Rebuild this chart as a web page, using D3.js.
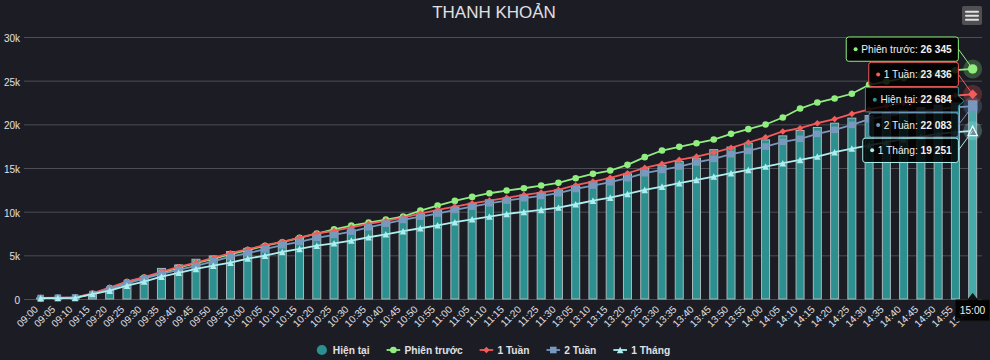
<!DOCTYPE html>
<html><head><meta charset="utf-8">
<script src="https://cdn.jsdelivr.net/npm/d3@7"></script>
<style>
html,body{margin:0;padding:0;background:#1c1c25;}
svg{display:block;}
</style></head><body>
<svg id="chart" width="990" height="360"></svg>
<script>
const categories = ["09:00","09:05","09:10","09:15","09:20","09:25","09:30","09:35","09:40","09:45","09:50","09:55","10:00","10:05","10:10","10:15","10:20","10:25","10:30","10:35","10:40","10:45","10:50","10:55","11:00","11:05","11:10","11:15","11:20","11:25","11:30","13:05","13:10","13:15","13:20","13:25","13:30","13:35","13:40","13:45","13:50","13:55","14:00","14:05","14:10","14:15","14:20","14:25","14:30","14:35","14:40","14:45","14:50","14:55","15:00"];
const hienTai = [120,150,180,520,1220,1870,2560,3500,3900,4550,4930,5430,5800,6190,6570,7070,7530,7750,7900,8370,8860,9440,9740,10120,10500,10960,11350,11540,11920,12190,12490,12950,13450,13830,14330,14980,15300,15740,16120,17100,17400,17840,18220,18680,19290,19640,20130,20710,21000,21300,21600,21900,22200,22450,22684];
const phienTruoc = [100,130,160,600,1250,1950,2450,3000,3600,4100,4600,5150,5600,6100,6500,7000,7500,7980,8400,8750,9090,9440,10120,10700,11230,11690,12110,12420,12680,12990,13300,13830,14330,14710,15360,16240,17000,17420,17840,18260,18910,19450,19980,20780,21810,22500,22960,23500,24530,24900,25300,25600,25900,26200,26345];
const motTuan = [120,150,180,650,1300,2000,2500,3100,3670,4170,4700,5240,5700,6160,6540,7040,7500,7800,8200,8600,8940,9320,9780,10200,10580,10960,11270,11580,11920,12190,12490,13030,13450,13870,14400,15010,15470,15930,16310,16770,17300,17920,18510,19180,19560,20130,20600,21200,21700,22100,22450,22750,23050,23300,23436];
const haiTuan = [110,140,170,560,1100,1800,2330,2870,3330,3780,4320,4860,5240,5700,6160,6540,7000,7340,7720,8210,8630,9050,9440,9780,10200,10580,10960,11270,11540,11800,12110,12600,12990,13370,13830,14400,14780,15170,15630,16050,16580,16960,17460,18000,18340,18910,19370,19940,20600,20950,21250,21500,21750,21950,22083];
const motThang = [90,110,130,570,960,1530,2000,2560,3000,3440,3820,4170,4630,4970,5390,5740,6100,6380,6690,7070,7410,7760,8100,8440,8790,9130,9440,9740,9970,10200,10470,10850,11270,11610,12030,12490,12870,13260,13640,14020,14400,14780,15170,15550,15930,16310,16810,17230,17600,17950,18300,18600,18900,19100,19251];
const yTicks = [0,5000,10000,15000,20000,25000,30000];
const yTickLabels = ["0","5k","10k","15k","20k","25k","30k"];
const titleText = "THANH KHOẢN";

const FONT = '"Liberation Sans", Arial, Helvetica, sans-serif';
const TXT = '#e0e0e3';
const svg = d3.select('#chart');
const W = 990, H = 360;
svg.append('rect').attr('width', W).attr('height', H).attr('fill', '#1c1c25');

const plot = {left: 32, right: 981.3, top: 37, bottom: 299, gridLeft: 24, gridRight: 982};
const x = d3.scaleBand().domain(categories).range([plot.left, plot.right]).padding(0);
const bw = x.bandwidth();
const cx = c => x(c) + bw / 2;
const y = d3.scaleLinear().domain([0, 30000]).range([plot.bottom, plot.top]);

// Y axis with grid
const yAxis = d3.axisLeft(y).tickValues(yTicks).tickSize(-(plot.gridRight - plot.gridLeft)).tickPadding(4)
  .tickFormat(d => yTickLabels[yTicks.indexOf(d)]);
const gy = svg.append('g').attr('transform', `translate(${plot.gridLeft},0)`).call(yAxis);
gy.select('.domain').remove();
gy.selectAll('line').attr('stroke', '#4d4d55').attr('stroke-width', 1);
gy.selectAll('text').attr('fill', TXT).attr('font-family', FONT).style('font-size', '10px').attr('dy', '0.45em');

// X axis
const xAxis = d3.axisBottom(x).tickSize(0);
const gx = svg.append('g').attr('transform', `translate(0,${plot.bottom})`).call(xAxis);
gx.select('.domain').remove();
gx.selectAll('text').attr('x', 0).attr('y', 0).attr('dy', 0)
  .attr('transform', 'translate(-2,11) rotate(-45)').attr('text-anchor', 'end')
  .attr('fill', TXT).attr('font-family', FONT).style('font-size', '10px');

const hi = categories.length - 1;

// Bars
const barW = 8;
svg.append('g').selectAll('rect').data(hienTai).join('rect')
  .attr('x', (d, i) => cx(categories[i]) - barW / 2)
  .attr('y', d => y(d))
  .attr('width', barW)
  .attr('height', d => y(0) - y(d))
  .attr('fill', (d, i) => i === hi ? '#45aaa9' : '#2b908f')
  .attr('stroke', '#aab9ba').attr('stroke-width', 1);

const series = [
  {name: 'Phiên trước', data: phienTruoc, color: '#90ee7e', symbol: 'circle'},
  {name: '1 Tuần', data: motTuan, color: '#f45b5b', symbol: 'diamond'},
  {name: '2 Tuần', data: haiTuan, color: '#7798BF', symbol: 'square'},
  {name: '1 Tháng', data: motThang, color: '#aaeeee', symbol: 'triangle'}
];

function markerPath(type, s) {
  const h = s / 2;
  switch (type) {
    case 'circle': return d3.symbol(d3.symbolCircle, Math.PI * h * h)();
    case 'diamond': return `M0,${-h}L${h},0L0,${h}L${-h},0Z`;
    case 'square': return `M${-h},${-h}H${h}V${h}H${-h}Z`;
    case 'triangle': return `M0,${-h}L${h},${h}L${-h},${h}Z`;
  }
}

const line = d3.line().x((d, i) => cx(categories[i])).y(d => y(d));
series.forEach(s => {
  const g = svg.append('g');
  g.append('path').attr('d', line(s.data)).attr('fill', 'none').attr('stroke', s.color).attr('stroke-width', 1.8);
  g.selectAll('path.m').data(s.data).join('path').attr('class', 'm')
    .attr('transform', (d, i) => `translate(${cx(categories[i])},${y(d)})`)
    .attr('d', markerPath(s.symbol, 6.6)).attr('fill', s.color);
});

// Hover markers + halos
series.forEach(s => {
  const px = cx(categories[hi]), py = y(s.data[hi]);
  svg.append('circle').attr('cx', px).attr('cy', py).attr('r', 9.5).attr('fill', s.color).attr('fill-opacity', 0.25);
  const m = svg.append('path').attr('transform', `translate(${px},${py})`).attr('d', markerPath(s.symbol, 9.5));
  if (s.symbol === 'triangle') m.attr('fill', '#6f8f95').attr('stroke', '#e8ffff').attr('stroke-width', 1.2);
  else m.attr('fill', s.color);
});

// Tooltips (split)
const fmt = v => d3.format(',')(v).replace(/,/g, ' ');
const items = [
  {name: 'Hiện tại', value: hienTai[hi], color: '#2b908f', ay: y(hienTai[hi])},
  ...series.map(s => ({name: s.name, value: s.data[hi], color: s.color, ay: y(s.data[hi])}))
].sort((a, b) => a.ay - b.ay);
const ax = cx(categories[hi]);
const SIZE = 25.3, BH = 24.3;
let groups = items.map(it => ({items: [it], sum: it.ay, n: 1, size: SIZE}));
const gpos = g => g.sum / g.n - g.size / 2;
let changed = true;
while (changed) {
  changed = false;
  for (let i = 0; i < groups.length - 1; i++) {
    const a = groups[i], b = groups[i + 1];
    if (gpos(a) + a.size > gpos(b)) {
      groups.splice(i, 2, {items: a.items.concat(b.items), sum: a.sum + b.sum, n: a.n + b.n, size: a.size + b.size});
      changed = true; break;
    }
  }
}
groups.forEach(g => { let p = gpos(g); g.items.forEach(it => { it.by = p; p += SIZE; }); });

const tipG = svg.append('g');
const boxRight = ax - 14.3;
items.forEach(it => {
  const g = tipG.append('g');
  const t = g.append('text').attr('font-family', FONT).style('font-size', '10.2px').attr('fill', '#f0f0f0');
  t.append('tspan').text(it.name + ': ');
  t.append('tspan').attr('font-weight', 'bold').text(fmt(it.value));
  const tl = t.node().getComputedTextLength();
  const bwid = 15 + tl + 6.6;
  const bx = boxRight - bwid, by = it.by, bh = BH;
  const inside = it.ay > by + 6 && it.ay < by + bh - 6;
  if (inside) {
    g.insert('path', 'text').attr('d', `M${bx},${by}H${boxRight}V${it.ay - 5}L${boxRight + 6},${it.ay}L${boxRight},${it.ay + 5}V${by + bh}H${bx}Z`)
      .attr('fill', 'rgba(0,0,0,0.85)').attr('stroke', it.color).attr('stroke-width', 1);
  } else {
    g.insert('line', 'text').attr('x1', boxRight).attr('y1', by + bh / 2).attr('x2', ax).attr('y2', it.ay)
      .attr('stroke', it.color).attr('stroke-width', 1);
    g.insert('rect', 'text').attr('x', bx).attr('y', by).attr('width', bwid).attr('height', bh).attr('rx', 2.5)
      .attr('fill', 'rgba(0,0,0,0.85)').attr('stroke', it.color).attr('stroke-width', 1);
  }
  g.insert('circle', 'text').attr('cx', bx + 9.4).attr('cy', by + bh / 2).attr('r', 2).attr('fill', it.color);
  t.attr('x', bx + 15).attr('y', by + bh / 2 + 3.6);
});

// Header label
{
  const g = svg.append('g');
  const t = g.append('text').attr('font-family', FONT).style('font-size', '10.2px').attr('fill', '#f0f0f0')
    .attr('text-anchor', 'middle').text(categories[hi]);
  const tl = t.node().getComputedTextLength();
  const w = tl + 8.5;
  let bx = ax - w / 2; if (bx + w > 989.5) bx = 989.5 - w;
  const by = 300, bh = 20.7;
  g.insert('path', 'text').attr('d', `M${bx},${by}H${ax - 5}L${ax},${by - 6.5}L${ax + 5},${by}H${bx + w}V${by + bh}H${bx}Z`)
    .attr('fill', 'rgba(0,0,0,0.88)').attr('stroke', '#111').attr('stroke-width', 1);
  t.attr('x', bx + w / 2).attr('y', by + bh / 2 + 3.6);
}

// Legend
const legendItems = [{name: 'Hiện tại', color: '#2b908f', symbol: 'column'}, ...series];
const lg = svg.append('g');
let cur = 0;
const legendY = 350;
const parts = [];
legendItems.forEach(it => {
  const g = lg.append('g');
  const symW = it.symbol === 'column' ? 16 : 17.8;
  if (it.symbol === 'column') {
    g.append('circle').attr('cx', cur + 5.1).attr('cy', legendY).attr('r', 5.1).attr('fill', it.color);
  } else {
    g.append('line').attr('x1', cur).attr('x2', cur + 13.6).attr('y1', legendY).attr('y2', legendY)
      .attr('stroke', it.color).attr('stroke-width', 1.8);
    g.append('path').attr('transform', `translate(${cur + 6.8},${legendY})`).attr('d', markerPath(it.symbol, 6.6)).attr('fill', it.color);
  }
  const t = g.append('text').attr('x', cur + symW).attr('y', legendY + 3.6).attr('font-family', FONT)
    .attr('font-weight', 'bold').style('font-size', '10.2px').attr('fill', TXT).text(it.name);
  cur += symW + t.node().getComputedTextLength() + 17;
});
const totalW = cur - 17;
lg.attr('transform', `translate(${493.5 - totalW / 2},0)`);

// Title
svg.append('text').attr('x', 494).attr('y', 18.3).attr('text-anchor', 'middle').attr('font-family', FONT)
  .style('font-size', '17px').attr('fill', TXT).text(titleText);

// Menu button
svg.append('rect').attr('x', 962).attr('y', 6).attr('width', 20).attr('height', 19).attr('rx', 2).attr('fill', '#505053');
[11.7, 15.7, 19.7].forEach(yy => svg.append('line').attr('x1', 966).attr('x2', 978).attr('y1', yy).attr('y2', yy)
  .attr('stroke', '#e0e0e3').attr('stroke-width', 2).attr('stroke-linecap', 'round'));
</script>
</body></html>
